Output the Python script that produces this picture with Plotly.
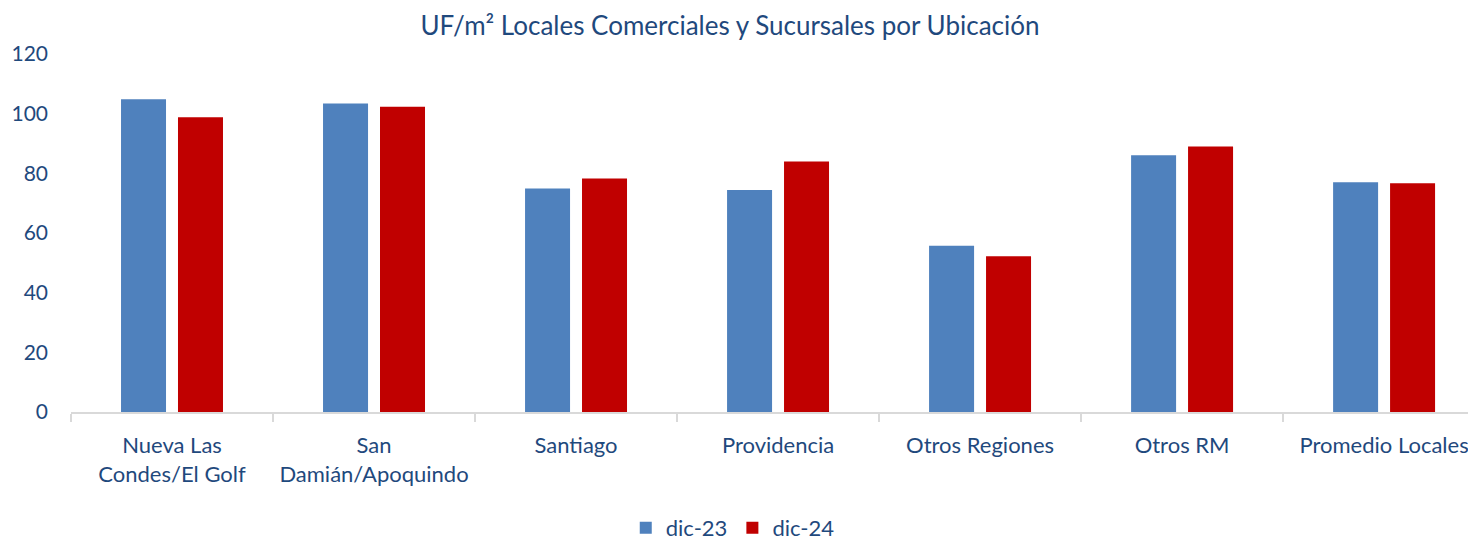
import plotly.graph_objects as go

categories = ["Nueva Las<br>Condes/El Golf", "San<br>Damián/Apoquindo", "Santiago",
              "Providencia", "Otros Regiones", "Otros RM", "Promedio Locales"]
dic23 = [104.8, 103.4, 74.9, 74.4, 55.7, 86.1, 77.0]
dic24 = [98.8, 102.3, 78.3, 84.0, 52.2, 89.0, 76.7]
series_names = ["dic-23", "dic-24"]
y_ticks = [0, 20, 40, 60, 80, 100, 120]

TEXT = "#1F497D"
FONT = "Lato"

fig = go.Figure()
fig.add_trace(go.Bar(x=categories, y=dic23, name=series_names[0],
                     marker=dict(color="#4F81BD", line=dict(width=0))))
fig.add_trace(go.Bar(x=categories, y=dic24, name=series_names[1],
                     marker=dict(color="#C00000", line=dict(width=0))))

fig.update_layout(
    width=1476, height=539,
    paper_bgcolor="white", plot_bgcolor="white",
    margin=dict(l=63, r=8, t=46, b=135, autoexpand=False),
    barmode="group", bargap=0.436, bargroupgap=0.21,
    font=dict(family=FONT, color=TEXT, size=21),
    title=dict(text="UF/m² Locales Comerciales y Sucursales por Ubicación",
               x=722 / 1476, xanchor="center", y=1 - 18 / 539, yanchor="middle",
               yref="container", font=dict(size=26, color=TEXT, family=FONT)),
    showlegend=True,
    legend=dict(orientation="h", x=0.471, xanchor="center", y=-0.324, yanchor="middle",
                font=dict(size=22, color=TEXT), itemwidth=30, traceorder="normal"),
    hovermode=False,
)
fig.update_xaxes(
    range=[-0.5, 6.455], showline=True, linecolor="#D9D9D9", linewidth=2,
    ticks="outside", tickson="boundaries", ticklen=8, tickcolor="#D9D9D9", tickwidth=2,
    showgrid=False, tickfont=dict(size=22, color=TEXT), ticklabelstandoff=13,
    automargin=False,
)
fig.update_yaxes(
    range=[0, 120], tickvals=y_ticks, showline=False, showgrid=False, zeroline=False,
    ticks="", tickfont=dict(size=21, color=TEXT), ticklabelstandoff=22,
    automargin=False,
)

fig.write_html("out.html")
